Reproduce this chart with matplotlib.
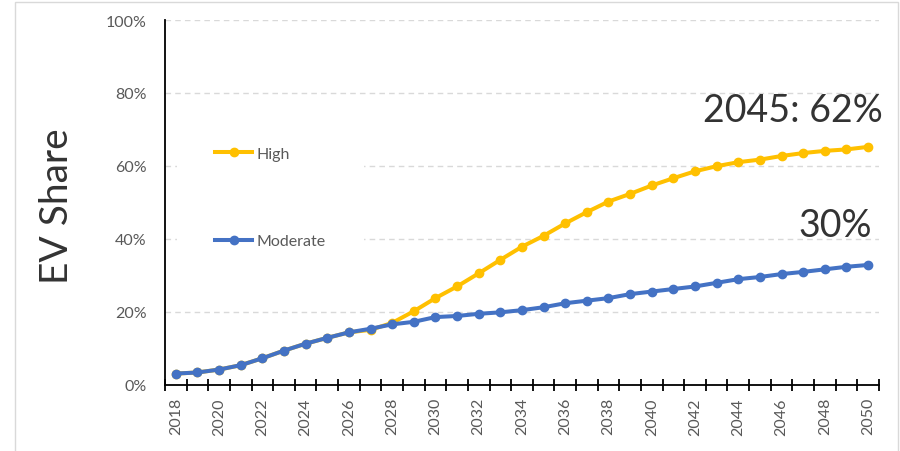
import matplotlib
matplotlib.use('Agg')
import matplotlib.pyplot as plt
from matplotlib.patches import Rectangle
import numpy as np

plt.rcParams['font.family'] = ['Lato', 'DejaVu Sans']

# EV share of sales by year, two adoption scenarios (%)
years = list(range(2018, 2051))
high = [3.0, 3.3, 4.1, 5.3, 7.2, 9.3, 11.2, 12.8, 14.3, 15.0, 16.9, 20.1, 23.7,
        26.9, 30.5, 34.2, 37.8, 40.8, 44.2, 47.3, 50.2, 52.3, 54.6, 56.6, 58.5,
        59.9, 61.0, 61.7, 62.7, 63.5, 64.1, 64.5, 65.2]
moderate = [3.0, 3.3, 4.1, 5.3, 7.2, 9.3, 11.2, 12.8, 14.3, 15.3, 16.5, 17.2, 18.5,
            18.8, 19.4, 19.8, 20.4, 21.2, 22.3, 23.0, 23.7, 24.8, 25.5, 26.2, 26.9,
            27.9, 28.9, 29.5, 30.3, 30.9, 31.6, 32.3, 32.8]
yticks = [0, 20, 40, 60, 80, 100]
callout_year = 2045

fig = plt.figure(figsize=(9, 4.52), dpi=100)
ax = fig.add_axes([0.1833, 0.1471, 0.7933, 0.8064])

x = np.arange(len(years))
ax.plot(x, high, color='#FFC000', lw=2.9, marker='o', ms=6, label='High', zorder=3)
ax.plot(x, moderate, color='#4472C4', lw=2.9, marker='o', ms=6, label='Moderate', zorder=4)

ax.set_xlim(-0.5, len(years) - 0.5)
ax.set_ylim(0, 100)

# y axis: percent labels, dashed grid, no tick marks
ax.set_yticks(yticks)
ax.set_yticklabels([f'{v}%' for v in yticks])
ax.yaxis.grid(True, color='#D9D9D9', ls=(0, (4, 3)), lw=1)
ax.set_axisbelow(True)
ax.tick_params(axis='y', length=0, pad=13, labelsize=11.5, labelcolor='#595959')

# x axis: labels every other year, tick marks between categories
ax.set_xticks(x[::2])
ax.set_xticklabels([str(y) for y in years[::2]], rotation=90)
ax.set_xticks(np.arange(len(years) + 1) - 0.5, minor=True)
ax.tick_params(axis='x', which='major', length=0, pad=9, labelsize=11.5, labelcolor='#595959')
ax.tick_params(axis='x', which='minor', direction='inout', length=8.6, width=1.3, color='black')

for side in ['top', 'right']:
    ax.spines[side].set_visible(False)
ax.spines['left'].set_linewidth(1.3)
ax.spines['bottom'].set_linewidth(1.3)

leg = ax.legend(loc='center left', bbox_to_anchor=(0.1967, 0.561), bbox_transform=fig.transFigure,
                frameon=True, facecolor='white', edgecolor='none', framealpha=1, fancybox=False,
                borderpad=2.4, borderaxespad=0, labelspacing=4.6, handlelength=2.3,
                handletextpad=0.3, fontsize=11.5)
for t in leg.get_texts():
    t.set_color('#595959')

# callouts for the 2045 values
i = years.index(callout_year)
ax.text(1.006, 0.723, f'{callout_year}: {high[i]:.0f}%', transform=ax.transAxes,
        ha='right', va='baseline', fontsize=27, color='#333333')
ax.text(0.990, 0.407, f'{moderate[i]:.0f}%', transform=ax.transAxes,
        ha='right', va='baseline', fontsize=27, color='#333333')

fig.text(0.063, 0.544, 'EV Share', rotation=90, ha='center', va='center',
         fontsize=28, color='#333333')

# chart area border
fig.patches.append(Rectangle((15 / 900, -0.01), 883 / 900, 1.0034, transform=fig.transFigure,
                             fill=False, edgecolor='#D9D9D9', lw=1))

plt.savefig('out.png', dpi=100)
